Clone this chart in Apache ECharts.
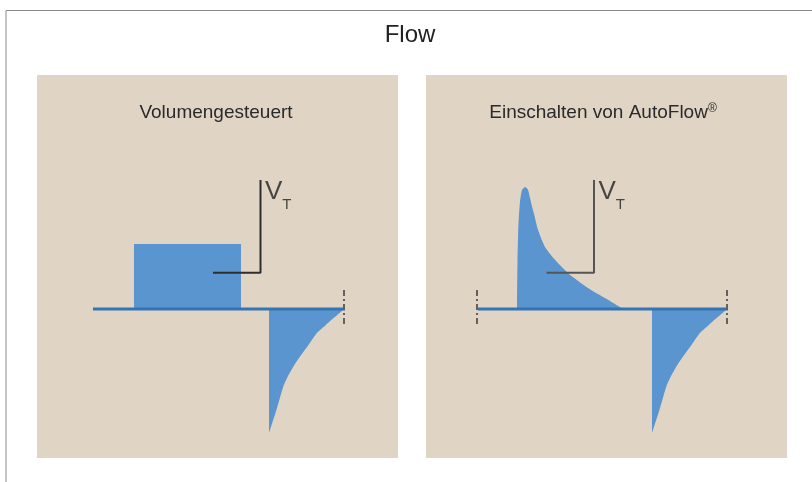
<!DOCTYPE html>
<html>
<head>
<meta charset="utf-8">
<script src="https://cdn.jsdelivr.net/npm/echarts@6/dist/echarts.min.js"></script>
<style>
  html, body { margin: 0; padding: 0; background: #fff; }
  #main { width: 812px; height: 482px; }
</style>
</head>
<body>
<div id="main"></div>
<script>
// titles
const chartTitle = "Flow";
const panelTitles = ["Volumengesteuert", "Einschalten von AutoFlow{r|®}"];

// left panel: volume controlled (time in s, flow in L/min)
const leftBaseline = [[-0.02, 0], [5.02, 0]];
const leftInsp = [[0.8, 0], [0.8, 16.7], [2.94, 16.7], [2.94, 0]];
const leftExp = [
  [3.5, 0], [3.5, -31.8], [3.65, -25.8], [3.786, -19.9], [3.88, -17.2], [3.986, -14.8],
  [4.12, -12.2], [4.29, -9.2], [4.454, -6.2], [4.62, -4.3], [4.786, -2.4], [4.9, -1.15], [5.0, 0]
];
const leftVt = [[2.38, 9.3], [3.33, 9.3], [3.33, 33.1]];
const leftMarks = [5.0];

// right panel: AutoFlow
const rightBaseline = [[0, 0], [5.0, 0]];
const rightInsp = [
  [0.78, 0], [0.79, 12], [0.81, 22], [0.84, 27.5], [0.88, 30.5], [0.94, 31.3],
  [1.0, 30.6], [1.04, 28.5], [1.08, 26.3], [1.12, 24.4], [1.2, 20.3], [1.34, 15.9],
  [1.54, 12.6], [1.8, 9.2], [2.2, 5.4], [2.54, 2.8], [2.9, 0]
];
const rightExp = [
  [3.48, 0], [3.48, -31.8], [3.63, -25.8], [3.766, -19.9], [3.86, -17.2], [3.966, -14.8],
  [4.1, -12.2], [4.27, -9.2], [4.434, -6.2], [4.6, -4.3], [4.766, -2.4], [4.88, -1.15], [4.98, 0]
];
const rightVt = [[1.37, 9.3], [2.32, 9.3], [2.32, 33.1]];
const rightMarks = [-0.02, 4.98];

const markTop = 4.9;
const markBottom = -4.1;

const fillColor = "#5a95cf";
const baseColor = "#3574b2";
const panelColor = "#e0d5c4";
const font = "Liberation Sans, Arial, sans-serif";

function panelSeries(idx, baseline, insp, exp, vt, marks, vtColor, inspSmooth) {
  const list = [];
  [[insp, inspSmooth], [exp, 0.2]].forEach(([d, sm]) => {
    list.push({
      type: "line",
      xAxisIndex: idx,
      yAxisIndex: idx,
      data: d,
      symbol: "none",
      smooth: sm,
      lineStyle: { width: 0 },
      areaStyle: { color: fillColor, opacity: 1 },
      z: 2
    });
  });
  list.push({
    type: "line",
    xAxisIndex: idx,
    yAxisIndex: idx,
    data: baseline,
    symbol: "none",
    lineStyle: { color: baseColor, width: 3 },
    z: 3
  });
  list.push({
    type: "line",
    xAxisIndex: idx,
    yAxisIndex: idx,
    data: vt,
    symbol: "none",
    lineStyle: { color: vtColor, width: 2 },
    z: 4
  });
  // V_T label at the top of the bracket
  list.push({
    type: "scatter",
    xAxisIndex: idx,
    yAxisIndex: idx,
    data: [vt[vt.length - 1]],
    symbolSize: 1,
    itemStyle: { color: "transparent" },
    label: {
      show: true,
      position: [5, -1],
      formatter: "{v|V}{t|T}",
      rich: {
        v: { fontFamily: font, fontSize: 26, lineHeight: 26, color: "#222", verticalAlign: "top" },
        t: { fontFamily: font, fontSize: 15, lineHeight: 15, color: "#222", verticalAlign: "top", padding: [19, 0, 0, 0] }
      }
    },
    z: 5
  });
  marks.forEach(x => {
    list.push({
      type: "line",
      xAxisIndex: idx,
      yAxisIndex: idx,
      data: [[x, markTop], [x, markBottom]],
      symbol: "none",
      lineStyle: { color: "#65605c", width: 2, type: [6, 3, 2, 3] },
      z: 6
    });
  });
  return list;
}

function init() {
  const myChart = echarts.init(document.getElementById("main"));
  const subStyle = {
    fontFamily: font,
    fontSize: 19,
    fontWeight: "normal",
    color: "#2a2a2a",
    rich: {
      r: { fontFamily: font, fontSize: 12, color: "#2a2a2a", verticalAlign: "top", padding: [0, 0, 6, 0] }
    }
  };
  const option = {
    animation: false,
    backgroundColor: "#fff",
    title: [
      {
        text: chartTitle,
        left: 410,
        top: 23,
        padding: 0,
        textAlign: "center",
        textStyle: { fontFamily: font, fontSize: 24, fontWeight: "normal", color: "#222" }
      },
      {
        text: panelTitles[0],
        left: 216,
        top: 103,
        padding: 0,
        textAlign: "center",
        textStyle: subStyle
      },
      {
        text: panelTitles[1],
        left: 603,
        top: 103,
        padding: 0,
        textAlign: "center",
        textStyle: subStyle
      }
    ],
    graphic: [
      {
        type: "polyline",
        shape: { points: [[6, 482], [6, 10.5], [812, 10.5]] },
        style: { stroke: "#8a8a8a", lineWidth: 1, fill: null }
      }
    ],
    grid: [
      { left: 37, top: 75, width: 361, height: 383, show: true, backgroundColor: panelColor, borderWidth: 0 },
      { left: 426, top: 75, width: 361, height: 383, show: true, backgroundColor: panelColor, borderWidth: 0 }
    ],
    xAxis: [
      { type: "value", gridIndex: 0, min: -1.14, max: 6.08, show: false },
      { type: "value", gridIndex: 1, min: -1.04, max: 6.18, show: false }
    ],
    yAxis: [
      { type: "value", gridIndex: 0, min: -38.2, max: 60, show: false },
      { type: "value", gridIndex: 1, min: -38.2, max: 60, show: false }
    ],
    series: [
      ...panelSeries(0, leftBaseline, leftInsp, leftExp, leftVt, leftMarks, "#2e2e2e", false),
      ...panelSeries(1, rightBaseline, rightInsp, rightExp, rightVt, rightMarks, "#555", 0.2)
    ]
  };
  myChart.setOption(option);
}
init();
</script>
</body>
</html>
